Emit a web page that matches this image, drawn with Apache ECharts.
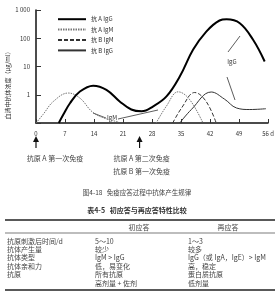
<!DOCTYPE html>
<html><head><meta charset="utf-8">
<script src="https://cdn.jsdelivr.net/npm/echarts@6/dist/echarts.min.js"></script>
<style>html,body{margin:0;padding:0;background:#fff}#c{width:280px;height:300px}</style>
</head><body><div id="c"></div>
<script>
const FONT = '"Noto Sans CJK SC", "Liberation Serif", serif';
const xTicks = [0, 7, 14, 21, 28, 35, 42, 49, 56];
const yTicks = [0.1, 1, 10, 100, 1000];
const seriesNames = ['抗 A IgG', '抗 A IgM', '抗 B IgM', '抗 B IgG'];
const antiA_IgG = [[5.5,0.1],[6.6,0.2],[8.2,0.5],[10.6,1.3],[13.8,2.1],[17,1.5],[20.2,0.58],[23,0.3],[25.5,0.26],[28.3,0.39],[31.5,0.87],[34.7,4.4],[37.9,39],[41.1,172],[44.3,425],[46,470],[49.2,340],[52.4,88],[55.2,15]];
const antiA_IgM_primary = [[0,0.1],[1.7,0.2],[4.2,0.58],[7.8,1.15],[10.6,0.76],[13.7,0.24],[17,0.14],[20,0.11]];
const antiA_IgM_secondary = [[29,0.1],[31.5,0.4],[34.3,1.27],[37,0.7],[40.3,0.1]];
const antiB_IgM = [[33,0.1],[35.2,0.35],[38.3,1.2],[41,0.6],[43.5,0.1]];
const antiB_IgG = [[34.7,0.1],[37.5,0.3],[42.3,1.25],[45.5,0.7],[48.4,0.34],[51.6,0.3],[55.5,0.32]];
const immunizationDays = [0, 25];
const arrowLabels = [['抗原 A 第一次免疫'], ['抗原 A 第二次免疫', '抗原 B 第一次免疫']];
const yAxisTitle = '血清中抗体浓度（μg/ml）';
const figCaption = '图4-18   免疫应答过程中抗体产生规律';
const tableTitle = '表4-5   初应答与再应答特性比较';
const tableHeader = ['', '初应答', '再应答'];
const tableCol1 = ['抗原刺激后时间/d', '抗体产生量', '抗体类型', '抗体亲和力', '抗原', ''];
const tableCol2 = ['5～10', '较少', 'IgM > IgG', '低，易变化', '所有抗原', '高剂量 + 佐剂'];
const tableCol3 = ['1～3', '较多', 'IgG（或 IgA，IgE）> IgM', '高，稳定', '蛋白质抗原', '低剂量'];

const chart = echarts.init(document.getElementById('c'), null, {renderer: 'canvas'});
const lineBase = {type: 'line', smooth: 0.4, symbol: 'none', clip: true};
chart.setOption({
  animation: false,
  grid: {left: 36, right: 12, top: 10, bottom: 177},
  legend: {
    orient: 'vertical', left: 52, top: 11, itemWidth: 28, itemHeight: 8, itemGap: 4,
    data: seriesNames,
    itemStyle: {color: 'transparent', borderWidth: 0, opacity: 0},
    textStyle: {fontSize: 6, color: '#333', fontFamily: FONT}
  },
  xAxis: {
    type: 'value', min: 0, max: 56, interval: 7,
    axisLine: {lineStyle: {color: '#111', width: 1.5}},
    axisTick: {inside: true, length: 4, lineStyle: {color: '#333'}},
    splitLine: {show: false},
    axisLabel: {fontSize: 6, color: '#333', fontFamily: FONT, margin: 8,
      formatter: v => xTicks.indexOf(v) >= 0 ? (v === 56 ? '56 d' : String(v)) : ''}
  },
  yAxis: {
    type: 'log', logBase: 10, min: 0.1, max: 1000,
    axisLine: {show: true, lineStyle: {color: '#111', width: 1.5}},
    axisTick: {show: true, inside: true, length: 5, lineStyle: {color: '#333'}},
    splitLine: {show: false},
    axisLabel: {fontSize: 6, color: '#333', fontFamily: FONT, margin: 6,
      formatter: v => (yTicks.indexOf(v) < 1 ? '' : (v === 1000 ? '1 000' : String(v)))}
  },
  series: [
    Object.assign({}, lineBase, {name: seriesNames[0], data: antiA_IgG, z: 5, lineStyle: {color: '#000', width: 2}, itemStyle: {color: '#000'}}),
    Object.assign({}, lineBase, {name: seriesNames[1], data: antiA_IgM_primary, lineStyle: {color: '#777', width: 1, type: [1.5, 1]}, itemStyle: {color: '#777'}}),
    Object.assign({}, lineBase, {name: seriesNames[1], data: antiA_IgM_secondary, lineStyle: {color: '#777', width: 1, type: [1.5, 1]}, itemStyle: {color: '#777'}}),
    Object.assign({}, lineBase, {name: seriesNames[2], data: antiB_IgM, lineStyle: {color: '#333', width: 1, type: [4, 2]}, itemStyle: {color: '#333'}}),
    Object.assign({}, lineBase, {name: seriesNames[3], data: antiB_IgG, lineStyle: {color: '#333', width: 1}, itemStyle: {color: '#333'}})
  ]
});

const P = (x, y) => chart.convertToPixel({xAxisIndex: 0, yAxisIndex: 0}, [x, y]);
const g = [];
const txt = (x, y, s, size, opts) => g.push(Object.assign({type: 'text', x: x, y: y, style: Object.assign({text: s, fontSize: size, fill: '#333', fontFamily: FONT, textVerticalAlign: 'middle'}, opts || {})}));
const ln = (x1, y1, x2, y2, w, col) => g.push({type: 'line', shape: {x1: x1, y1: y1, x2: x2, y2: y2}, style: {stroke: col || '#333', lineWidth: w || 0.8}});

g.push({type: 'text', x: 8, y: 84, rotation: Math.PI / 2, style: {text: yAxisTitle, fontSize: 6, fill: '#333', fontFamily: FONT, textAlign: 'center', textVerticalAlign: 'middle'}});

immunizationDays.forEach((d, i) => {
  const px = P(d, 0.1)[0];
  g.push({type: 'polygon', shape: {points: [[px, 136], [px - 3, 142], [px + 3, 142]]}, style: {fill: '#111'}});
  ln(px, 141, px, 148, 1.2, '#111');
  arrowLabels[i].forEach((s, j) => txt(px + (i === 0 ? 19 : 2), 158 + j * 13, s, 7, {textAlign: 'center', fill: '#444'}));
});

const igg = P(47.3, 10);
txt(igg[0], igg[1] - 5, 'IgG', 6, {textAlign: 'center'});
ln(228, 52, 240, 36);
ln(227, 77, 235, 100);
txt(112, 118, 'IgM', 6, {textAlign: 'center'});
ln(93, 113, 106, 118);
ln(118, 119, 158, 110);

txt(137, 193, figCaption, 6.5, {textAlign: 'center', fill: '#444'});
txt(137, 210, tableTitle, 7, {textAlign: 'center', fontWeight: 'bold'});
ln(5, 220, 275, 220, 1.6, '#222');
ln(5, 233, 275, 233, 0.7, '#444');
ln(5, 290, 275, 290, 1.6, '#222');
txt(139, 227, tableHeader[1], 7, {textAlign: 'center', fill: '#444'});
txt(228, 227, tableHeader[2], 7, {textAlign: 'center', fill: '#444'});
tableCol1.forEach((s, i) => {
  const y = 241 + i * 8.4;
  txt(7, y, s, 7, {fill: '#444'});
  txt(95, y, tableCol2[i], 7, {fill: '#444'});
  txt(188, y, tableCol3[i], 7, {fill: '#444'});
});
chart.setOption({graphic: g});
</script></body></html>
